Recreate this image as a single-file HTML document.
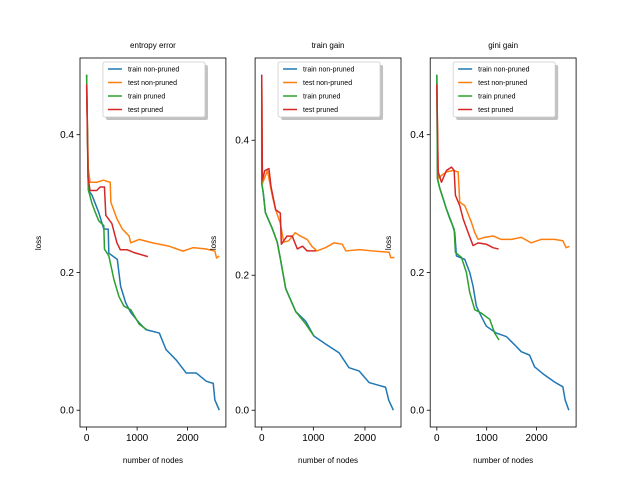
<!DOCTYPE html>
<html><head><meta charset="utf-8"><style>
body{margin:0;background:#fff}
svg{display:block;font-family:"Liberation Sans","DejaVu Sans",sans-serif}
</style></head><body>
<svg id="chart" width="640" height="480" viewBox="0 0 640 480"></svg>
<script>
const titles=["entropy error","train gain","gini gain"];
const seriesNames=["train non-pruned","test non-pruned","train pruned","test pruned"];
const colors=["#1f77b4","#ff7f0e","#2ca02c","#d62728"];
const xTicks=[0,1000,2000];
const yTicks=[0,0.2,0.4];
const yTickLabels=["0.0","0.2","0.4"];
// panel 1: entropy error
const p1TrainNP=[[0,0.487],[33,0.32],[107,0.312],[240,0.287],[340,0.263],[427,0.263],[440,0.228],[607,0.219],[673,0.18],[773,0.156],[873,0.142],[1040,0.127],[1173,0.117],[1440,0.112],[1573,0.088],[1773,0.073],[1973,0.054],[2173,0.054],[2373,0.042],[2507,0.039],[2540,0.015],[2627,0]];
const p1TestNP=[[0,0.468],[33,0.351],[67,0.331],[200,0.331],[333,0.334],[467,0.331],[480,0.302],[600,0.278],[707,0.263],[840,0.253],[873,0.243],[1040,0.248],[1307,0.243],[1640,0.238],[1907,0.231],[2107,0.236],[2373,0.234],[2540,0.231],[2573,0.221],[2627,0.224]];
const p1TrainP=[[0,0.487],[33,0.32],[107,0.30],[173,0.287],[240,0.275],[340,0.268],[353,0.234],[440,0.224],[540,0.19],[640,0.165],[740,0.151],[873,0.146],[1040,0.125],[1187,0.117]];
const p1TestP=[[0,0.473],[27,0.339],[67,0.319],[200,0.319],[267,0.324],[353,0.324],[380,0.283],[500,0.271],[600,0.243],[667,0.233],[800,0.233],[933,0.229],[1213,0.223]];
// panel 2: train gain
const p2TrainNP=[[0,0.497],[0,0.336],[30,0.322],[70,0.293],[210,0.268],[300,0.249],[360,0.225],[465,0.18],[660,0.146],[850,0.132],[1010,0.11],[1240,0.098],[1500,0.085],[1690,0.063],[1890,0.058],[2080,0.041],[2400,0.034],[2460,0.015],[2550,0]];
const p2TestNP=[[0,0.49],[13,0.336],[110,0.355],[210,0.316],[270,0.297],[360,0.277],[425,0.249],[520,0.251],[650,0.263],[750,0.258],[880,0.253],[970,0.243],[1070,0.236],[1240,0.241],[1400,0.248],[1560,0.246],[1630,0.236],[1890,0.238],[2150,0.236],[2470,0.234],[2500,0.226],[2570,0.226]];
const p2TrainP=[[0,0.497],[0,0.336],[30,0.322],[70,0.293],[210,0.268],[300,0.249],[360,0.225],[465,0.18],[660,0.146],[850,0.128],[1010,0.11]];
const p2TestP=[[0,0.497],[13,0.341],[60,0.355],[140,0.358],[180,0.331],[270,0.297],[360,0.292],[380,0.246],[490,0.258],[590,0.258],[690,0.239],[790,0.243],[880,0.236],[1050,0.236]];
// panel 3: gini gain
const p3TrainNP=[[0,0.487],[13,0.336],[60,0.322],[127,0.307],[193,0.292],[293,0.273],[360,0.258],[393,0.224],[560,0.219],[660,0.2],[727,0.18],[793,0.151],[893,0.136],[993,0.122],[1193,0.112],[1393,0.107],[1560,0.095],[1693,0.085],[1860,0.08],[1960,0.063],[2127,0.053],[2360,0.041],[2527,0.034],[2573,0.015],[2647,0]];
const p3TestNP=[[0,0.473],[27,0.336],[93,0.341],[193,0.346],[327,0.348],[427,0.346],[460,0.302],[560,0.297],[693,0.273],[760,0.258],[827,0.248],[960,0.251],[1127,0.253],[1293,0.248],[1493,0.248],[1693,0.251],[1893,0.243],[2093,0.248],[2360,0.248],[2527,0.246],[2593,0.236],[2660,0.238]];
const p3TrainP=[[0,0.487],[13,0.336],[60,0.322],[127,0.307],[193,0.292],[260,0.278],[347,0.263],[373,0.229],[493,0.222],[593,0.2],[660,0.171],[760,0.146],[893,0.141],[1060,0.132],[1160,0.112],[1247,0.102]];
const p3TestP=[[0,0.473],[27,0.346],[93,0.331],[193,0.348],[293,0.353],[347,0.348],[373,0.312],[460,0.297],[527,0.278],[627,0.258],[727,0.239],[827,0.243],[993,0.241],[1127,0.236],[1240,0.234]];
const panels=[[p1TrainNP,p1TestNP,p1TrainP,p1TestP],[p2TrainNP,p2TestNP,p2TrainP,p2TestP],[p3TrainNP,p3TestNP,p3TrainP,p3TestP]];

const NS="http://www.w3.org/2000/svg";
const svg=document.getElementById('chart');
function mk(tag,attrs,parent){const e=document.createElementNS(NS,tag);for(const k in attrs)e.setAttribute(k,attrs[k]);(parent||svg).appendChild(e);return e;}
const lefts=[80,255.1,430.2],W=145.9,T=58,B=427;
panels.forEach((ser,pi)=>{
  const L=lefts[pi];
  const g=mk('g',{});
  
  
  let xs=[],ys=[];ser.forEach(s=>s.forEach(p=>{xs.push(p[0]);ys.push(p[1]);}));
  const x0=Math.min(...xs),x1=Math.max(...xs),y0=Math.min(...ys),y1=Math.max(...ys);
  const xm=(x1-x0)*0.05,ym=(y1-y0)*0.05;
  const sx=v=>L+(v-(x0-xm))/((x1+xm)-(x0-xm))*W;
  const sy=v=>B-(v-(y0-ym))/((y1+ym)-(y0-ym))*(B-T);
  ser.forEach((s,si)=>{
    let d='M'+sx(s[0][0])+','+sy(s[0][1]);
    for(let i=1;i<s.length;i++){d+='L'+sx(s[i][0])+','+sy(s[i][1]);}
    const p=mk('path',{d:d,fill:'none',stroke:colors[si],'stroke-width':1.5,'stroke-linejoin':'round'},g);
    
    
  });
  const fr=mk('rect',{x:L,y:T,width:W,height:B-T,fill:'none',stroke:'#000','stroke-width':0.8},g);
  
  
  xTicks.forEach(t=>{
    const x=sx(t);
    mk('line',{x1:x,x2:x,y1:B,y2:B+3.5,stroke:'#000','stroke-width':0.8},g);
    const tx=mk('text',{x:x,y:B+14,'font-size':10,'text-anchor':'middle'},g);
    tx.textContent=t;
    
    
  });
  yTicks.forEach((t,i)=>{
    const y=sy(t);
    mk('line',{x1:L-3.5,x2:L,y1:y,y2:y,stroke:'#000','stroke-width':0.8},g);
    const tx=mk('text',{x:L-6,y:y+3.5,'font-size':10,'text-anchor':'end'},g);
    tx.textContent=yTickLabels[i];
    
    
  });
  const ti=mk('text',{x:L+W/2,y:48,'font-size':8,'text-anchor':'middle'},g);
  ti.textContent=titles[pi];
  
  
  const xl=mk('text',{x:L+W/2,y:463,'font-size':8,'text-anchor':'middle'},g);
  xl.textContent='number of nodes';
  
  
  const ylx=L-39;
  const yl=mk('text',{x:ylx,y:243,'font-size':8,'text-anchor':'middle',transform:'rotate(-90 '+ylx+' 243)'},g);
  yl.textContent='loss';
  
  
  // legend
  const lx=L+W/2-50,ly=62,lw=102,lh=55;
  const lg=mk('g',{},g);
  
  
  mk('rect',{x:lx+3,y:ly+3,width:lw,height:lh,rx:2,fill:'#999','fill-opacity':0.6},lg);
  mk('rect',{x:lx,y:ly,width:lw,height:lh,rx:2,fill:'#fff',stroke:'#ccc','stroke-width':0.8},lg);
  seriesNames.forEach((n,si)=>{
    const yy=ly+7+si*13.5;
    mk('line',{x1:lx+5,x2:lx+19,y1:yy,y2:yy,stroke:colors[si],'stroke-width':1.5},lg);
    const t=mk('text',{x:lx+25,y:yy+2.5,'font-size':7},lg);
    t.textContent=n;
    
    
  });
});
</script>
</body></html>
